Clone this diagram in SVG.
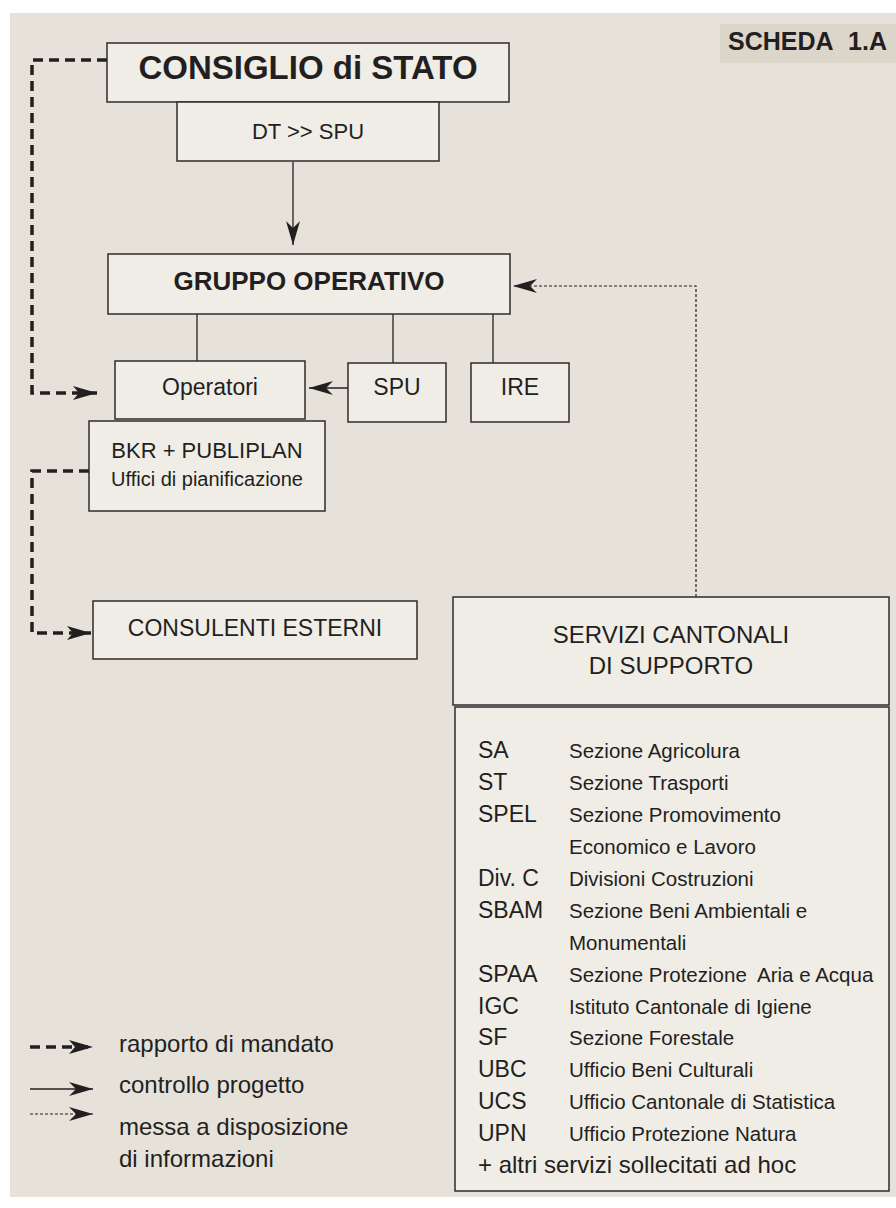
<svg xmlns="http://www.w3.org/2000/svg" width="896" height="1208" viewBox="0 0 896 1208">
<style>
text{font-family:"Liberation Sans",Arial,sans-serif;fill:#231f20}
.box{fill:#f0ede7;stroke:#2e2b2c;stroke-width:1.5}
.b{font-weight:bold}
.c{text-anchor:middle}
.ab{font-size:23px}
.ds{font-size:20.5px}
.lg{font-size:24px}
.dash{fill:none;stroke:#231f20;stroke-width:3.5;stroke-dasharray:10 6}
.solid{fill:none;stroke:#231f20;stroke-width:1.3}
.dot{fill:none;stroke:#231f20;stroke-width:1.2;stroke-dasharray:3 2}
</style>
<defs>
<marker id="ah" viewBox="0 0 24 14" markerWidth="24" markerHeight="14" refX="24" refY="7" orient="auto" markerUnits="userSpaceOnUse">
<path d="M0,0 L24,7 L0,14 L6,7 z" fill="#231f20"/>
</marker>
<marker id="ahs" viewBox="0 0 24 14" markerWidth="24" markerHeight="14" refX="24" refY="7" orient="auto" markerUnits="userSpaceOnUse">
<path d="M0,0 L24,7 L0,14 L7,7 z" fill="#231f20"/>
</marker>
</defs>
<rect x="10" y="13" width="886" height="1184" fill="#e6e2d9"/>
<g id="scheda">
<rect x="720" y="24" width="176" height="39" fill="#dcd5ca"/>
<text class="b" x="728" y="50" font-size="25">SCHEDA</text>
<text class="b" x="887" y="50" font-size="25" text-anchor="end">1.A</text>
</g>
<g id="connectors">
<path class="dash" d="M107,60 H32 V393 H97" marker-end="url(#ah)"/>
<path class="dash" d="M89,471 H32 V633 H91" marker-end="url(#ah)"/>
<path class="solid" d="M293,162 V245" marker-end="url(#ahs)"/>
<path class="solid" d="M348,388 H309" marker-end="url(#ahs)"/>
<path class="dot" d="M696,597 V286 H513" marker-end="url(#ahs)"/>
<path class="solid" d="M197,314 V361"/>
<path class="solid" d="M393,314 V363"/>
<path class="solid" d="M493,314 V363"/>
</g>
<g id="consiglio">
<rect class="box" x="107" y="43" width="402" height="59"/>
<text class="b c" x="308" y="79" font-size="33">CONSIGLIO di STATO</text>
</g>
<g id="dtspu">
<rect class="box" x="177" y="102" width="262" height="59"/>
<text class="c" x="308" y="139" font-size="22">DT &gt;&gt; SPU</text>
</g>
<g id="gruppo">
<rect class="box" x="108" y="254" width="402" height="60"/>
<text class="b c" x="309" y="290" font-size="26">GRUPPO OPERATIVO</text>
</g>
<g id="operatori">
<rect class="box" x="115" y="361" width="190" height="58"/>
<text class="c" x="210" y="395" font-size="23">Operatori</text>
</g>
<g id="spu">
<rect class="box" x="348" y="363" width="98" height="59"/>
<text class="c" x="397" y="395" font-size="23">SPU</text>
</g>
<g id="ire">
<rect class="box" x="471" y="363" width="98" height="59"/>
<text class="c" x="520" y="395" font-size="23">IRE</text>
</g>
<g id="bkr">
<rect class="box" x="89" y="421" width="236" height="90"/>
<text class="c" x="207" y="458" font-size="22">BKR + PUBLIPLAN</text>
<text class="c" x="207" y="486" font-size="20">Uffici di pianificazione</text>
</g>
<g id="consulenti">
<rect class="box" x="93" y="601" width="324" height="58"/>
<text class="c" x="255" y="636" font-size="23">CONSULENTI ESTERNI</text>
</g>
<g id="servizi">
<rect class="box" x="453" y="597" width="436" height="108"/>
<text class="c" x="671" y="643" font-size="24">SERVIZI CANTONALI</text>
<text class="c" x="671" y="674" font-size="24">DI SUPPORTO</text>
</g>
<g id="elenco">
<rect class="box" x="455" y="707" width="434" height="484"/>
<text class="ab" x="478" y="758">SA</text><text class="ds" x="569" y="758">Sezione Agricolura</text>
<text class="ab" x="478" y="790">ST</text><text class="ds" x="569" y="790">Sezione Trasporti</text>
<text class="ab" x="478" y="822">SPEL</text><text class="ds" x="569" y="822">Sezione Promovimento</text>
<text class="ds" x="569" y="854">Economico e Lavoro</text>
<text class="ab" x="478" y="886">Div. C</text><text class="ds" x="569" y="886">Divisioni Costruzioni</text>
<text class="ab" x="478" y="918">SBAM</text><text class="ds" x="569" y="918">Sezione Beni Ambientali e</text>
<text class="ds" x="569" y="950">Monumentali</text>
<text class="ab" x="478" y="982">SPAA</text><text class="ds" x="569" y="982" xml:space="preserve">Sezione Protezione  Aria e Acqua</text>
<text class="ab" x="478" y="1014">IGC</text><text class="ds" x="569" y="1014">Istituto Cantonale di Igiene</text>
<text class="ab" x="478" y="1045">SF</text><text class="ds" x="569" y="1045">Sezione Forestale</text>
<text class="ab" x="478" y="1077">UBC</text><text class="ds" x="569" y="1077">Ufficio Beni Culturali</text>
<text class="ab" x="478" y="1109">UCS</text><text class="ds" x="569" y="1109">Ufficio Cantonale di Statistica</text>
<text class="ab" x="478" y="1141">UPN</text><text class="ds" x="569" y="1141">Ufficio Protezione Natura</text>
<text x="478" y="1173" font-size="24">+ altri servizi sollecitati ad hoc</text>
</g>
<g id="legenda">
<path class="dash" d="M30,1047 H93" marker-end="url(#ah)"/>
<path class="solid" d="M30,1089 H93" marker-end="url(#ahs)"/>
<path class="dot" d="M30,1114 H93" marker-end="url(#ahs)"/>
<text class="lg" x="119" y="1052">rapporto di mandato</text>
<text class="lg" x="119" y="1093">controllo progetto</text>
<text class="lg" x="119" y="1135">messa a disposizione</text>
<text class="lg" x="119" y="1167">di informazioni</text>
</g>
</svg>
